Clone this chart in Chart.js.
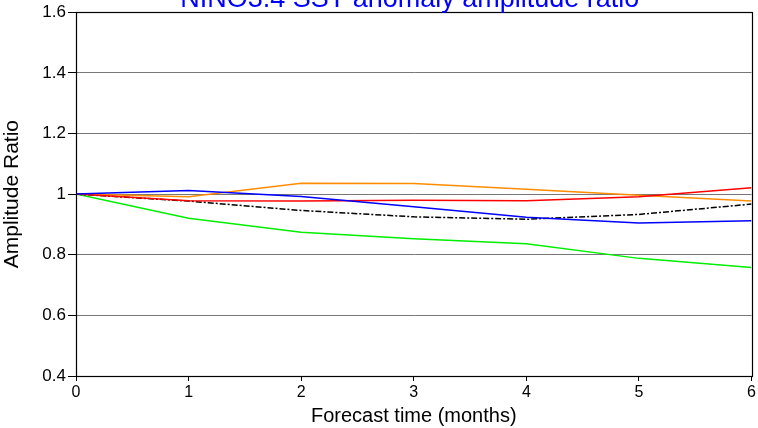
<!DOCTYPE html>
<html lang="en">
<head>
   <meta charset="UTF-8">
   <title>NINO3.4 SST anomaly amplitude ratio</title>
   <style>
      html, body { margin: 0; padding: 0; background: #fff; }
      #wrap { width: 758px; height: 428px; }
   </style>
</head>
<body>
   <div id="wrap"><canvas id="ratioChart" width="758" height="428"></canvas></div>
   <script src="https://cdn.jsdelivr.net/npm/chart.js@4.4.0/dist/chart.umd.min.js"></script>
   <script>
      // forecast lead (months)
      var leads = [0, 1, 2, 3, 4, 5, 6];
      var yTicks = [0.4, 0.6, 0.8, 1.0, 1.2, 1.4, 1.6];

      // amplitude ratio per model
      var blueSeries   = [1.000, 1.012, 0.992, 0.958, 0.924, 0.905, 0.912];
      var orangeSeries = [1.000, 0.991, 1.036, 1.035, 1.016, 0.996, 0.977];
      var redSeries    = [1.000, 0.978, 0.977, 0.980, 0.978, 0.991, 1.021];
      var blackSeries  = [1.000, 0.977, 0.946, 0.925, 0.917, 0.933, 0.967];
      var greenSeries  = [1.000, 0.920, 0.874, 0.853, 0.836, 0.788, 0.758];

      var titleText = 'NINO3.4 SST anomaly amplitude ratio';
      var fontFam = 'Arial, "Liberation Sans", sans-serif';

      function toPoints(arr) {
         return arr.map(function (v, i) { return { x: leads[i], y: v }; });
      }

      function lineSet(label, data, color, dash) {
         return {
            label: label,
            data: toPoints(data),
            borderColor: color,
            backgroundColor: color,
            borderWidth: 1.5,
            borderDash: dash || [],
            pointRadius: 0,
            tension: 0,
            fill: false
         };
      }

      // frame box + clipped title at the very top
      var framePlugin = {
         id: 'framePlugin',
         afterDraw: function (chart) {
            var ctx = chart.ctx, a = chart.chartArea;
            ctx.save();
            ctx.strokeStyle = '#000';
            ctx.lineWidth = 1.2;
            ctx.strokeRect(Math.round(a.left) + 0.5, Math.round(a.top) + 0.5,
               Math.round(a.right - a.left), Math.round(a.bottom - a.top));
            ctx.fillStyle = '#0000ff';
            ctx.font = '27px ' + fontFam;
            ctx.textAlign = 'center';
            ctx.textBaseline = 'alphabetic';
            ctx.fillText(titleText, (a.left + a.right) / 2 - 4, 7);
            ctx.restore();
         }
      };

      var ctx = document.getElementById('ratioChart').getContext('2d');
      var ratioChart = new Chart(ctx, {
         type: 'line',
         data: {
            datasets: [
               lineSet('model A', blueSeries, '#0000ff'),
               lineSet('model B', redSeries, '#ff0000'),
               lineSet('model C', orangeSeries, '#ff8c00'),
               lineSet('ensemble', blackSeries, '#000000', [6, 2, 2, 2]),
               lineSet('model D', greenSeries, '#00ee00')
            ]
         },
         options: {
            responsive: false,
            animation: false,
            layout: { padding: { top: 12, right: 6, left: 0, bottom: 0 } },
            plugins: {
               legend: { display: false },
               tooltip: { enabled: false },
               title: { display: false }
            },
            scales: {
               x: {
                  type: 'linear',
                  min: 0,
                  max: 6,
                  afterFit: function (scale) { scale.height = 52; },
                  ticks: {
                     stepSize: 1,
                     color: '#000',
                     padding: 2,
                     maxRotation: 0,
                     font: { family: fontFam, size: 16 }
                  },
                  grid: {
                     drawOnChartArea: false,
                     drawTicks: true,
                     tickLength: 5,
                     tickColor: '#000'
                  },
                  border: { display: true, color: '#000', width: 1 },
                  title: {
                     display: true,
                     text: 'Forecast time (months)',
                     color: '#000',
                     padding: { top: 0, bottom: 0 },
                     font: { family: fontFam, size: 20 }
                  }
               },
               y: {
                  min: 0.4,
                  max: 1.6,
                  afterFit: function (scale) { scale.width = 76; },
                  afterBuildTicks: function (scale) {
                     scale.ticks = yTicks.map(function (v) { return { value: v }; });
                  },
                  ticks: {
                     color: '#000',
                     padding: 2,
                     font: { family: fontFam, size: 17 },
                     callback: function (v) { return v === 1 ? '1' : v.toFixed(1); }
                  },
                  grid: {
                     color: function (c) {
                        return (c.tick.value <= 0.4 || c.tick.value >= 1.6) ? 'rgba(0,0,0,0)' : '#777';
                     },
                     lineWidth: 1,
                     borderDash: [1, 1],
                     drawTicks: true,
                     tickLength: 8,
                     tickColor: '#000',
                     tickBorderDash: []
                  },
                  border: { display: true, color: '#000', width: 1 },
                  title: {
                     display: true,
                     text: 'Amplitude Ratio',
                     color: '#000',
                     padding: { top: 0, bottom: 4 },
                     font: { family: fontFam, size: 21 }
                  }
               }
            }
         },
         plugins: [framePlugin]
      });
   </script>
</body>
</html>
